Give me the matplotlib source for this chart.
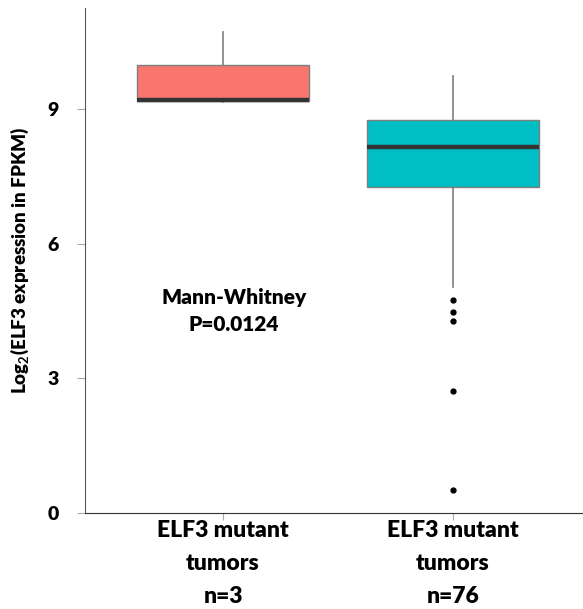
import matplotlib
matplotlib.use('Agg')
import matplotlib.pyplot as plt

# group labels and box statistics
groups = ['ELF3 mutant\ntumors\nn=3', 'ELF3 mutant\ntumors\nn=76']
whis_lo = [9.15, 5.03]
q1 = [9.18, 7.26]
median = [9.2, 8.15]
q3 = [9.98, 8.75]
whis_hi = [10.71, 9.73]
outliers = [[], [4.74, 4.48, 4.28, 2.72, 0.51]]
colors = ['#F8766D', '#00BFC4']
yticks = [0, 3, 6, 9]

plt.rcParams['font.family'] = ['Lato', 'DejaVu Sans']
plt.rcParams['mathtext.fontset'] = 'custom'
plt.rcParams['mathtext.bf'] = 'Lato:bold'

fig = plt.figure(figsize=(5.83, 6.09), dpi=100)
ax = fig.add_axes([85 / 583, 96 / 609, 1 - 85 / 583, (513 - 8) / 609])

stats = []
for i in range(len(groups)):
    stats.append({'whislo': whis_lo[i], 'q1': q1[i], 'med': median[i], 'q3': q3[i],
                  'whishi': whis_hi[i], 'fliers': outliers[i], 'label': groups[i]})

bp = ax.bxp(stats, positions=[1, 2], widths=0.75, patch_artist=True, showcaps=False,
            boxprops=dict(edgecolor='#7f7f7f', linewidth=1),
            whiskerprops=dict(color='#7f7f7f', linewidth=1.2),
            medianprops=dict(color='#333333', linewidth=3.2, solid_capstyle='butt'),
            flierprops=dict(marker='o', markerfacecolor='black', markeredgecolor='black',
                            markersize=3.5, linestyle='none'))
for patch, c in zip(bp['boxes'], colors):
    patch.set_facecolor(c)

wt = 'heavy'
ax.set_xlim(0.4, 2.565)
ax.set_ylim(0, 11.25)
ax.set_yticks(yticks)
ax.set_yticklabels([str(t) for t in yticks], fontsize=14, fontweight=wt)
ax.tick_params(axis='y', length=6, color='#aaaaaa', pad=13)
ax.tick_params(axis='x', length=5, color='#aaaaaa', pad=0)
for lab in ax.get_xticklabels():
    lab.set_fontsize(16.5)
    lab.set_fontweight(wt)
    lab.set_linespacing(1.72)

ax.spines['top'].set_visible(False)
ax.spines['right'].set_visible(False)
ax.spines['left'].set_color('#555555')
ax.spines['bottom'].set_color('#333333')

ax.set_ylabel('Log$_\\mathbf{2}$(ELF3 expression in FPKM)', fontsize=13.5, fontweight=wt, labelpad=12)

ax.text(1.048, 4.5, 'Mann-Whitney\nP=0.0124', ha='center', va='center', fontsize=15,
        fontweight=wt, linespacing=1.5)

fig.savefig('out.png', dpi=100)
